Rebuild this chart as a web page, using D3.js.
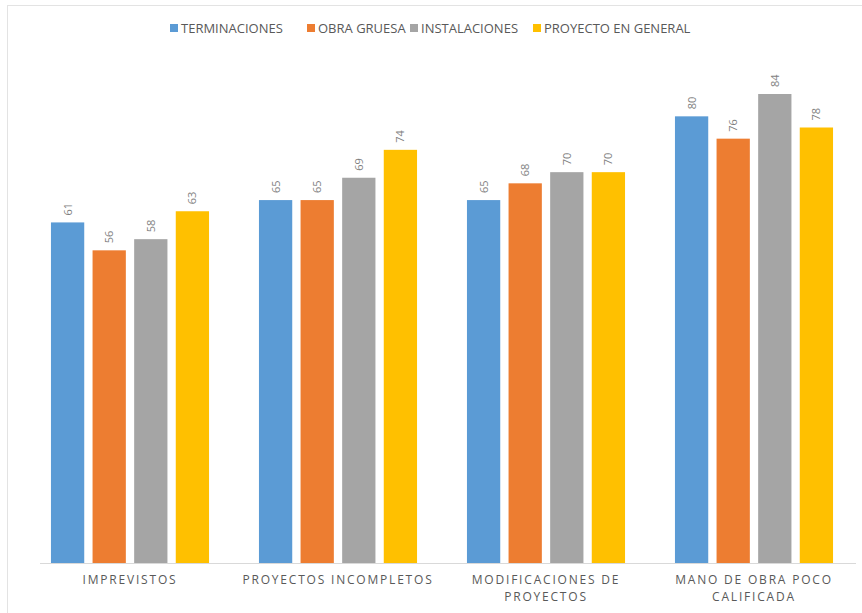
<!DOCTYPE html>
<html>
<head>
<meta charset="utf-8">
<script src="https://cdn.jsdelivr.net/npm/d3@7"></script>
<style>
  body { margin: 0; background: #fff; }
  text { font-family: "Open Sans", "Noto Sans", sans-serif; }
</style>
</head>
<body>
<div id="chart"></div>
<script>
// 数据
var categories = [["IMPREVISTOS"], ["PROYECTOS INCOMPLETOS"], ["MODIFICACIONES DE", "PROYECTOS"], ["MANO DE OBRA POCO", "CALIFICADA"]];
var seriesNames = ["TERMINACIONES", "OBRA GRUESA", "INSTALACIONES", "PROYECTO EN GENERAL"];
var terminaciones = [61, 65, 65, 80];
var obraGruesa = [56, 65, 68, 76];
var instalaciones = [58, 69, 70, 84];
var proyectoGeneral = [63, 74, 70, 78];
var seriesValues = [terminaciones, obraGruesa, instalaciones, proyectoGeneral];
var colors = ["#5B9BD5", "#ED7D31", "#A5A5A5", "#FFC000"];

var width = 862, height = 613;
var svg = d3.select("#chart").append("svg")
    .attr("width", width)
    .attr("height", height);

// 边框
svg.append("rect")
    .attr("x", 7.5).attr("y", 5.5)
    .attr("width", 900).attr("height", 700)
    .attr("fill", "none")
    .attr("stroke", "#e3e3e3");

var x0 = d3.scaleBand()
    .domain(d3.range(categories.length))
    .range([26, 858])
    .paddingInner(0.24)
    .paddingOuter(0.12);

var x1 = d3.scaleBand()
    .domain(d3.range(seriesNames.length))
    .range([0, x0.bandwidth()])
    .paddingInner(0.2);

var y = d3.scaleLinear()
    .domain([0, 84])
    .range([563, 94]);

// 柱子
var groups = svg.selectAll(".grp")
    .data(categories)
    .enter().append("g")
    .attr("class", "grp")
    .attr("transform", function (d, i) { return "translate(" + x0(i) + ",0)"; });

groups.each(function (c, ci) {
    var g = d3.select(this);
    var vals = seriesValues.map(function (s, si) { return {si: si, v: s[ci]}; });
    g.selectAll("rect")
        .data(vals)
        .enter().append("rect")
        .attr("x", function (d) { return x1(d.si); })
        .attr("y", function (d) { return y(d.v); })
        .attr("width", x1.bandwidth())
        .attr("height", function (d) { return y(0) - y(d.v); })
        .attr("fill", function (d) { return colors[d.si]; });
    // 数值标签（旋转）
    g.selectAll(".val")
        .data(vals)
        .enter().append("text")
        .attr("class", "val")
        .attr("transform", function (d) {
            return "translate(" + (x1(d.si) + x1.bandwidth() / 2 + 4) + "," + (y(d.v) - 7) + ") rotate(-90)";
        })
        .attr("text-anchor", "start")
        .attr("font-size", "11px")
        .attr("fill", "#7f7f7f")
        .text(function (d) { return d.v; });
});

// 基线
svg.append("line")
    .attr("x1", 40).attr("x2", 856)
    .attr("y1", y(0) + 0.5).attr("y2", y(0) + 0.5)
    .attr("stroke", "#d9d9d9");

// 类别标签
groups.each(function (c, ci) {
    var g = d3.select(this);
    g.selectAll(".cat")
        .data(c)
        .enter().append("text")
        .attr("class", "cat")
        .attr("x", x0.bandwidth() / 2)
        .attr("y", function (d, i) { return 584 + i * 17; })
        .attr("text-anchor", "middle")
        .attr("font-size", "12px")
        .attr("letter-spacing", "1.8px")
        .attr("fill", "#595959")
        .text(function (d) { return d; });
});

// 图例
var legendX = [170, 307, 410, 533];
var legend = svg.selectAll(".legendItem")
    .data(seriesNames)
    .enter().append("g")
    .attr("class", "legendItem")
    .attr("transform", function (d, i) { return "translate(" + legendX[i] + ",24)"; });

legend.append("rect")
    .attr("width", 8).attr("height", 8)
    .attr("fill", function (d, i) { return colors[i]; });

legend.append("text")
    .attr("x", 11).attr("y", 9)
    .attr("font-size", "13px")
    .attr("fill", "#595959")
    .text(function (d) { return d; });
</script>
</body>
</html>
